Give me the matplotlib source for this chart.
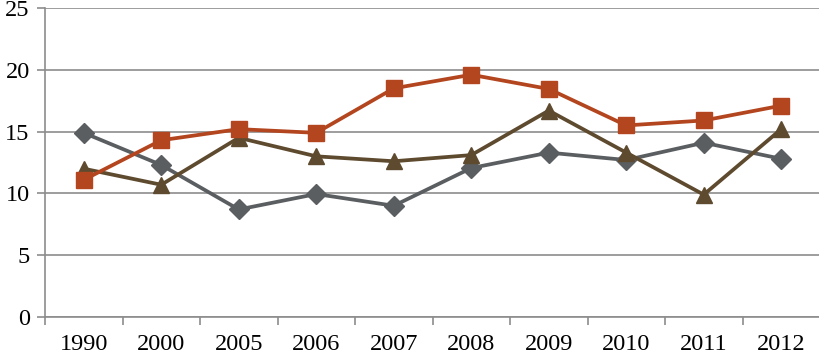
import matplotlib
matplotlib.use("Agg")
import matplotlib.pyplot as plt
import numpy as np

years = ["1990", "2000", "2005", "2006", "2007", "2008", "2009", "2010", "2011", "2012"]
gray_vals = [14.9, 12.3, 8.7, 9.95, 9.0, 12.05, 13.3, 12.7, 14.1, 12.8]
red_vals = [11.1, 14.3, 15.2, 14.9, 18.5, 19.6, 18.45, 15.5, 15.9, 17.1]
brown_vals = [12.0, 10.7, 14.5, 13.0, 12.6, 13.1, 16.7, 13.3, 9.9, 15.2]

plt.rcParams['font.family'] = ['Liberation Serif', 'DejaVu Serif']

fig = plt.figure(figsize=(8.2, 3.55), dpi=100)
ax = fig.add_axes([45/820, 38/355, 775/820, 309/355])

x = np.arange(len(years))
ax.plot(x, gray_vals, color='#5b5e61', lw=2.7, marker='D', ms=10, zorder=3)
ax.plot(x, red_vals, color='#b3461f', lw=2.7, marker='s', ms=11, zorder=4)
ax.plot(x, brown_vals, color='#5e4a2e', lw=2.7, marker='^', ms=12, zorder=3)

ax.set_xlim(-0.5, len(years) - 0.5)
ax.set_ylim(0, 25)
ax.set_yticks(range(0, 26, 5))
ax.yaxis.grid(True, color='#8c8c8c', lw=1.2)
ax.set_axisbelow(True)

ax.set_xticks(x)
ax.set_xticklabels(years)
ax.set_xticks(np.arange(-0.5, len(years), 1), minor=True)
ax.tick_params(axis='x', which='major', length=0, pad=12, labelsize=17.5)
ax.tick_params(axis='x', which='minor', length=6, color='#8c8c8c', width=1.2)
ax.tick_params(axis='y', length=6, color='#8c8c8c', width=1.2, labelsize=17.5, pad=5)

for s in ['top', 'right']:
    ax.spines[s].set_visible(False)
for s in ['left', 'bottom']:
    ax.spines[s].set_color('#8c8c8c')
    ax.spines[s].set_linewidth(1.2)

fig.savefig('out.png', dpi=100)
